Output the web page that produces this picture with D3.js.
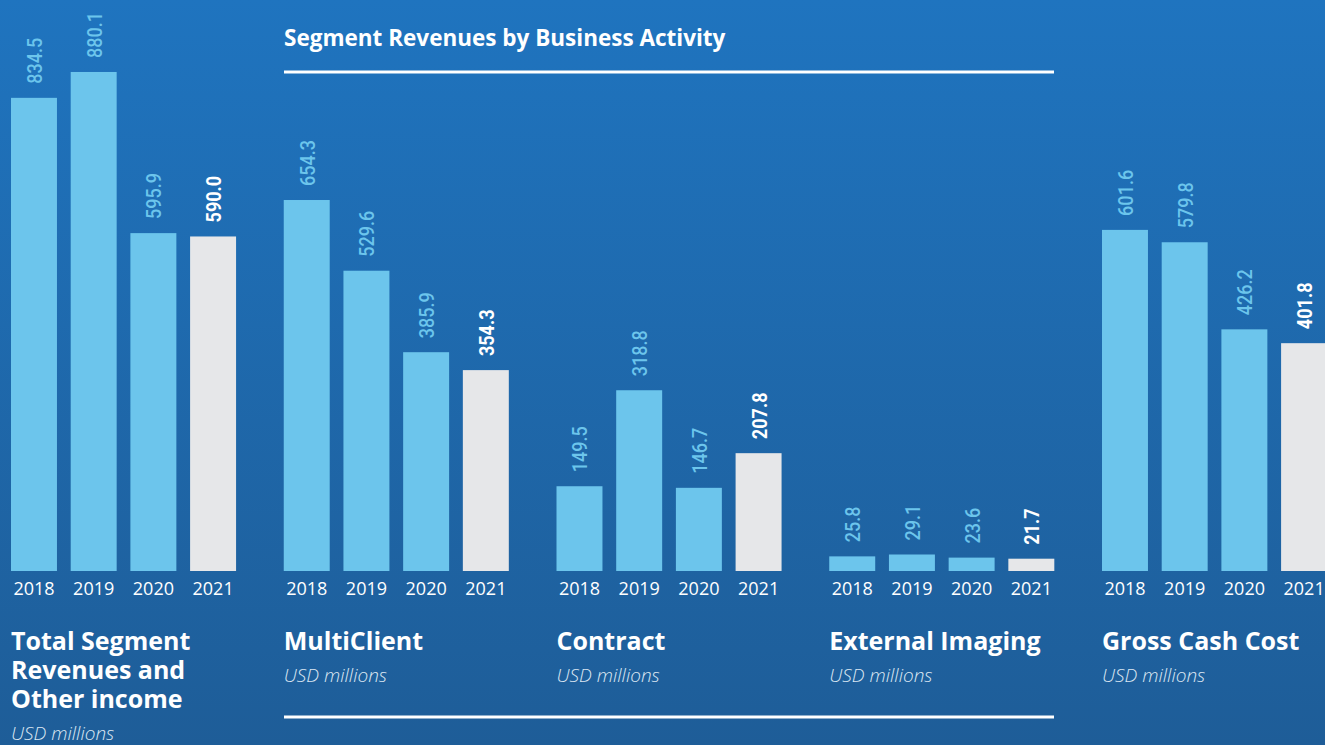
<!DOCTYPE html>
<html>
<head>
<meta charset="utf-8">
<script src="https://cdn.jsdelivr.net/npm/d3@7"></script>
<style>
  html, body { margin: 0; padding: 0; overflow: hidden; }
  svg { display: block; font-family: "Open Sans", sans-serif; }
</style>
</head>
<body>
<script>
// data
var years = ['2018', '2019', '2020', '2021'];
var panelNames = [
  ['Total Segment', 'Revenues and', 'Other income'],
  ['MultiClient'],
  ['Contract'],
  ['External Imaging'],
  ['Gross Cash Cost']
];
var totalRevenue = [834.5, 880.1, 595.9, 590.0];
var multiClient = [654.3, 529.6, 385.9, 354.3];
var contract = [149.5, 318.8, 146.7, 207.8];
var externalImaging = [25.8, 29.1, 23.6, 21.7];
var grossCashCost = [601.6, 579.8, 426.2, 401.8];
var panelValues = [totalRevenue, multiClient, contract, externalImaging, grossCashCost];
var headerTitle = 'Segment Revenues by Business Activity';
var unitLabel = 'USD millions';

var W = 1325, H = 745;
var barBlue = '#6cc5ec', barGrey = '#e6e7e9';

var svg = d3.select('body').append('svg')
  .attr('width', W).attr('height', H);

var grad = svg.append('defs').append('linearGradient')
  .attr('id', 'bg').attr('x1', 0).attr('y1', 0).attr('x2', 0).attr('y2', 1);
grad.append('stop').attr('offset', '0%').attr('stop-color', '#1f74bf');
grad.append('stop').attr('offset', '100%').attr('stop-color', '#1e5d98');
svg.append('rect').attr('width', W).attr('height', H).attr('fill', 'url(#bg)');

var y = d3.scaleLinear().domain([0, 1000]).range([571, 4]);

var panelX = d3.scaleLinear().domain([0, 4]).range([11, 1102]);
var step = 59.7;

panelValues.forEach(function(vals, p) {
  var x0 = panelX(p);
  var x = d3.scaleBand()
    .domain(years)
    .range([x0 - 6.87, x0 - 6.87 + 4 * step])
    .paddingInner(0.23)
    .paddingOuter(0.115);

  var g = svg.append('g');

  g.selectAll('rect.bar')
    .data(vals)
    .enter().append('rect')
      .attr('class', 'bar')
      .attr('x', function(d, i) { return x(years[i]); })
      .attr('width', x.bandwidth())
      .attr('y', function(d) { return y(d); })
      .attr('height', function(d) { return y(0) - y(d); })
      .attr('fill', function(d, i) { return i === 3 ? barGrey : barBlue; });

  // rotated value labels
  g.selectAll('text.val')
    .data(vals)
    .enter().append('text')
      .attr('class', 'val')
      .attr('transform', function(d, i) {
        return 'translate(' + (x(years[i]) + x.bandwidth() / 2 + 8) + ',' + (y(d) - 14) + ') rotate(-90) scale(0.86,1)';
      })
      .attr('font-family', 'Roboto, sans-serif')
      .attr('font-size', 21)
      .attr('font-weight', function(d, i) { return i === 3 ? 700 : 500; })
      .attr('fill', function(d, i) { return i === 3 ? '#ffffff' : barBlue; })
      .text(function(d) { return d.toFixed(1); });

  var axis = d3.axisBottom(x).tickSize(0).tickPadding(0);
  var ag = g.append('g').attr('transform', 'translate(0,' + 595 + ')').call(axis);
  ag.select('.domain').remove();
  ag.selectAll('text')
    .attr('dy', 0)
    .attr('font-size', 18)
    .attr('font-family', '"Open Sans", sans-serif')
    .attr('fill', '#ffffff');

  var lines = panelNames[p];
  var title = g.append('text')
    .attr('x', x0)
    .attr('y', 650)
    .attr('font-size', 25)
    .attr('font-weight', 700)
    .attr('fill', '#ffffff');
  title.selectAll('tspan')
    .data(lines)
    .enter().append('tspan')
      .attr('x', x0)
      .attr('dy', function(d, i) { return i === 0 ? 0 : 29; })
      .text(function(d) { return d; });

  g.append('text')
    .attr('x', x0)
    .attr('y', 650 + (lines.length - 1) * 29 + 32)
    .attr('font-size', 19)
    .attr('font-style', 'italic')
    .attr('font-weight', 300)
    .attr('fill', '#dbe6f2')
    .text(unitLabel);
});

svg.append('text')
  .attr('x', 284).attr('y', 46)
  .attr('font-size', 22.5)
  .attr('font-weight', 700)
  .attr('fill', '#ffffff')
  .text(headerTitle);

svg.append('line')
  .attr('x1', 284).attr('x2', 1054).attr('y1', 72).attr('y2', 72)
  .attr('stroke', '#ffffff').attr('stroke-width', 3);
svg.append('line')
  .attr('x1', 284).attr('x2', 1054).attr('y1', 717).attr('y2', 717)
  .attr('stroke', '#ffffff').attr('stroke-width', 3);
</script>
</body>
</html>
